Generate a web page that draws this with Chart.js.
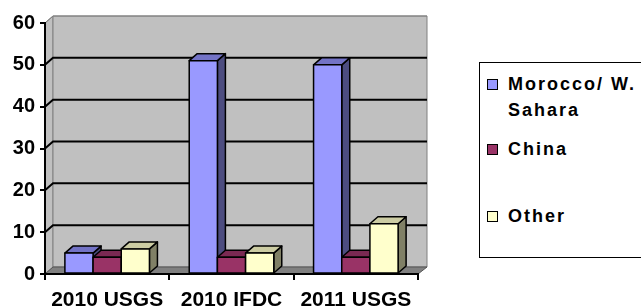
<!DOCTYPE html>
<html>
<head>
<meta charset="utf-8">
<script src="https://cdn.jsdelivr.net/npm/chart.js@4"></script>
<style>
  html, body { margin: 0; padding: 0; background: #fff; overflow: hidden; }
  #wrap { position: relative; width: 641px; height: 307px; }
  #legend {
    position: absolute; left: 479px; top: 62px; width: 200px; height: 196px;
    border: 1.5px solid #000; box-sizing: border-box; background: #fff;
    font-family: "Liberation Sans", Arial, sans-serif; font-weight: bold;
    font-size: 18px; letter-spacing: 2px; color: #000;
  }
  .item { position: absolute; left: 28px; line-height: 20px; white-space: nowrap; }
  .box { position: absolute; left: 7px; width: 9px; height: 9px; border: 1.5px solid #000; }
</style>
</head>
<body>
<div id="wrap">
  <canvas id="chart" width="641" height="307"></canvas>
  <div id="legend"></div>
</div>
<script>
// data
const categories = ['2010 USGS', '2010 IFDC', '2011 USGS'];
const morocco = [5, 51, 50];
const china = [4, 4, 4];
const other = [6, 5, 12];
const seriesNames = [['Morocco/ W.', 'Sahara'], ['China'], ['Other']];

// front / top / side colours for each series
const faceColors = [
    { front: '#9999FF', top: '#7373C6', side: '#4D4D80' },
    { front: '#993366', top: '#7A2952', side: '#4D1A33' },
    { front: '#FFFFCC', top: '#CCCCA3', side: '#808066' }
];

const DX = 8, DY = 7;

// back wall, side wall, floor and gridlines
const wallsPlugin = {
    id: 'walls',
    beforeDraw(chart) {
        const c = chart.ctx;
        const a = chart.chartArea;
        const yScale = chart.scales.y;
        c.save();
        // left side wall
        c.fillStyle = '#C0C0C0';
        c.strokeStyle = '#808080';
        c.lineWidth = 1;
        c.beginPath();
        c.moveTo(a.left, a.top);
        c.lineTo(a.left + DX, a.top - DY);
        c.lineTo(a.left + DX, a.bottom - DY);
        c.lineTo(a.left, a.bottom);
        c.closePath();
        c.fill();
        c.stroke();
        // back wall
        c.beginPath();
        c.rect(a.left + DX, a.top - DY, a.right - a.left + 1, a.bottom - a.top);
        c.fill();
        c.stroke();
        // floor
        c.fillStyle = '#808080';
        c.strokeStyle = '#555555';
        c.beginPath();
        c.moveTo(a.left, a.bottom);
        c.lineTo(a.left + DX, a.bottom - DY);
        c.lineTo(a.right + DX + 1, a.bottom - DY);
        c.lineTo(a.right, a.bottom);
        c.closePath();
        c.fill();
        c.stroke();
        // gridlines
        for (let v = 10; v <= 60; v += 10) {
            const y = yScale.getPixelForValue(v);
            c.strokeStyle = v === 60 ? '#808080' : '#000';
            c.lineWidth = v === 60 ? 1 : 2;
            c.beginPath();
            c.moveTo(a.left, y);
            c.lineTo(a.left + DX, y - DY);
            c.lineTo(a.right + DX + 1, y - DY);
            c.stroke();
        }
        c.restore();
    }
};

// 3D boxes drawn over the library's bar elements
const boxesPlugin = {
    id: 'boxes',
    afterDatasetsDraw(chart) {
        const c = chart.ctx;
        c.save();
        c.strokeStyle = '#000';
        c.lineWidth = 1.5;
        c.lineJoin = 'round';
        for (let i = 0; i < categories.length; i++) {
            chart.data.datasets.forEach((ds, d) => {
                const bar = chart.getDatasetMeta(d).data[i];
                const p = bar.getProps(['x', 'y', 'width', 'base'], true);
                const l = p.x - p.width / 2, r = p.x + p.width / 2;
                const col = faceColors[d];
                // side
                c.fillStyle = col.side;
                c.beginPath();
                c.moveTo(r, p.y);
                c.lineTo(r + DX, p.y - DY);
                c.lineTo(r + DX, p.base - DY);
                c.lineTo(r, p.base);
                c.closePath();
                c.fill();
                c.stroke();
                // top
                c.fillStyle = col.top;
                c.beginPath();
                c.moveTo(l, p.y);
                c.lineTo(l + DX, p.y - DY);
                c.lineTo(r + DX, p.y - DY);
                c.lineTo(r, p.y);
                c.closePath();
                c.fill();
                c.stroke();
                // front
                c.fillStyle = col.front;
                c.beginPath();
                c.rect(l, p.y, r - l, p.base - p.y);
                c.fill();
                c.stroke();
            });
        }
        c.restore();
    }
};

const yFont = { family: '"Liberation Sans", Arial, sans-serif', weight: 'bold', size: 20 };
const xFont = { family: '"Liberation Sans", Arial, sans-serif', weight: 'bold', size: 21 };

const chart = new Chart(document.getElementById('chart'), {
    type: 'bar',
    data: {
        labels: categories,
        datasets: [
            { label: 'Morocco/ W. Sahara', data: morocco, backgroundColor: faceColors[0].front },
            { label: 'China', data: china, backgroundColor: faceColors[1].front },
            { label: 'Other', data: other, backgroundColor: faceColors[2].front }
        ]
    },
    options: {
        responsive: false,
        animation: false,
        barPercentage: 1.0,
        categoryPercentage: 0.68,
        layout: { padding: { top: 23, right: 223, left: 0, bottom: 0 } },
        plugins: { legend: { display: false }, tooltip: { enabled: false } },
        scales: {
            x: {
                grid: { drawOnChartArea: false, tickLength: 6, color: '#000', lineWidth: 2 },
                border: { display: true, color: '#000', width: 2 },
                ticks: { color: '#000', font: xFont, padding: 8, maxRotation: 0 },
                afterFit(scale) { scale.height = 33; }
            },
            y: {
                min: 0, max: 60,
                grid: { drawOnChartArea: false, tickLength: 5, color: '#000', lineWidth: 2 },
                border: { display: true, color: '#000', width: 2 },
                ticks: { stepSize: 10, color: '#000', font: yFont, padding: 5 },
                afterFit(scale) { scale.width = 45; }
            }
        }
    },
    plugins: [wallsPlugin, boxesPlugin]
});

// legend built from the series names and colours
const legend = document.getElementById('legend');
const rows = [
    { text: seriesNames[0][0], y: 11, box: true, color: 0 },
    { text: seriesNames[0][1], y: 37, box: false },
    { text: seriesNames[1][0], y: 76, box: true, color: 1 },
    { text: seriesNames[2][0], y: 143, box: true, color: 2 }
];
rows.forEach(row => {
    const t = document.createElement('div');
    t.className = 'item';
    t.style.top = row.y + 'px';
    t.textContent = row.text;
    legend.appendChild(t);
    if (row.box) {
        const b = document.createElement('div');
        b.className = 'box';
        b.style.top = (row.y + 5) + 'px';
        b.style.background = faceColors[row.color].front;
        legend.appendChild(b);
    }
});
</script>
</body>
</html>
